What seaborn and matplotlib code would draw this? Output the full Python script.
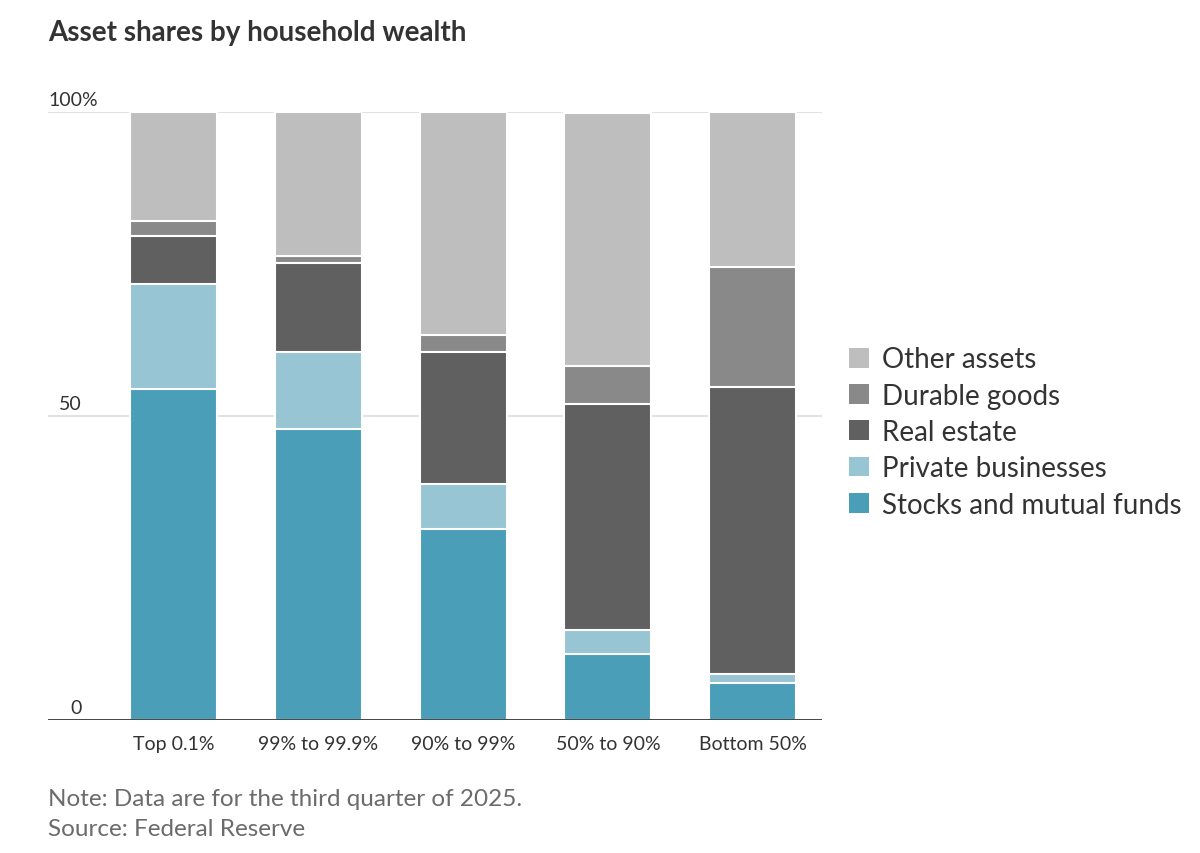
"""
Asset shares by household wealth - stacked bars (WSJ style)
"""

## Import packages
import numpy as np
import pandas as pd
import matplotlib.pyplot as plt
import matplotlib.patches as mpatches
from matplotlib.transforms import offset_copy
import seaborn as sns


## Data (percent of total assets)
groups = ['Top 0.1%', '99% to 99.9%', '90% to 99%', '50% to 90%', 'Bottom 50%']
stocks = [54.4, 47.8, 31.4, 10.8, 6.0]
private = [17.2, 12.7, 7.3, 4.0, 1.5]
real_estate = [8.0, 14.6, 21.8, 37.2, 47.2]
durable = [2.4, 1.2, 2.8, 6.1, 19.7]
other = [18.0, 23.7, 36.7, 41.7, 25.6]

series = ['Stocks and mutual funds', 'Private businesses', 'Real estate',
          'Durable goods', 'Other assets']
colors = ['#4a9eb8', '#97c5d3', '#606060', '#898989', '#bebebe']

# Cumulative tops of each layer
df = pd.DataFrame({'Stocks and mutual funds': stocks,
                   'Private businesses': private,
                   'Real estate': real_estate,
                   'Durable goods': durable,
                   'Other assets': other}, index=groups)
cum = df[series].cumsum(axis=1)


## Style
sns.set_theme(style='white')
plt.rcParams['font.family'] = ['Lato', 'DejaVu Sans']
text_dark = '#333333'
text_grey = '#6b6b6b'

fig = plt.figure(figsize=(12, 8.54), dpi=100)
ax = fig.add_axes([0.04, 0.1561, 0.645, 0.712])

# Light gridlines behind the bars
for yv in [50, 100]:
    ax.axhline(yv, color='#e2e2e2', lw=1.5, zorder=0)

# Draw from the tallest cumulative layer down so each segment shows
for name, col in zip(reversed(series), reversed(colors)):
    sns.barplot(x=groups, y=cum[name].values, order=groups, color=col,
                saturation=1, width=0.6, edgecolor='white', linewidth=1.5,
                ax=ax, zorder=2)

# Baseline
ax.axhline(0, color='#333333', lw=2, zorder=5)

ax.set_xlim(-0.87, 4.48)
ax.set_ylim(0, 100)
sns.despine(ax=ax, left=True, bottom=True)
ax.set_yticks([])
ax.set_ylabel('')
ax.set_xlabel('')
ax.tick_params(axis='x', length=0, pad=11, labelsize=14, labelcolor=text_dark)

# Y labels sitting above the gridlines
ytrans = offset_copy(ax.get_yaxis_transform(), fig=fig, y=7, units='dots')
ax.text(0.0, 100, '100%', transform=ytrans, ha='left', va='baseline',
        fontsize=14, color=text_dark)
for yv in [50, 0]:
    ax.text(0.0439, yv, str(yv), transform=ytrans, ha='right', va='baseline',
            fontsize=14, color=text_dark)

# Legend (top layer first)
handles = [mpatches.Patch(facecolor=c, edgecolor='none')
           for c in reversed(colors)]
ax.legend(handles, list(reversed(series)), loc='center left',
          bbox_to_anchor=(849 / 1200, 1 - 433 / 854),
          bbox_transform=fig.transFigure, frameon=False, fontsize=20,
          labelcolor=text_dark, handlelength=0.72, handleheight=0.72,
          handletextpad=0.45, labelspacing=0.37, borderpad=0, borderaxespad=0)

# Title and notes
fig.text(48 / 1200, 1 - 33 / 854, 'Asset shares by household wealth',
         fontsize=20, fontweight='bold', color=text_dark, va='center', ha='left')
fig.text(48 / 1200, 1 - 800 / 854, 'Note: Data are for the third quarter of 2025.',
         fontsize=17.5, color=text_grey, va='center', ha='left')
fig.text(48 / 1200, 1 - 830 / 854, 'Source: Federal Reserve',
         fontsize=17.5, color=text_grey, va='center', ha='left')

plt.savefig('out.png', dpi=100)
